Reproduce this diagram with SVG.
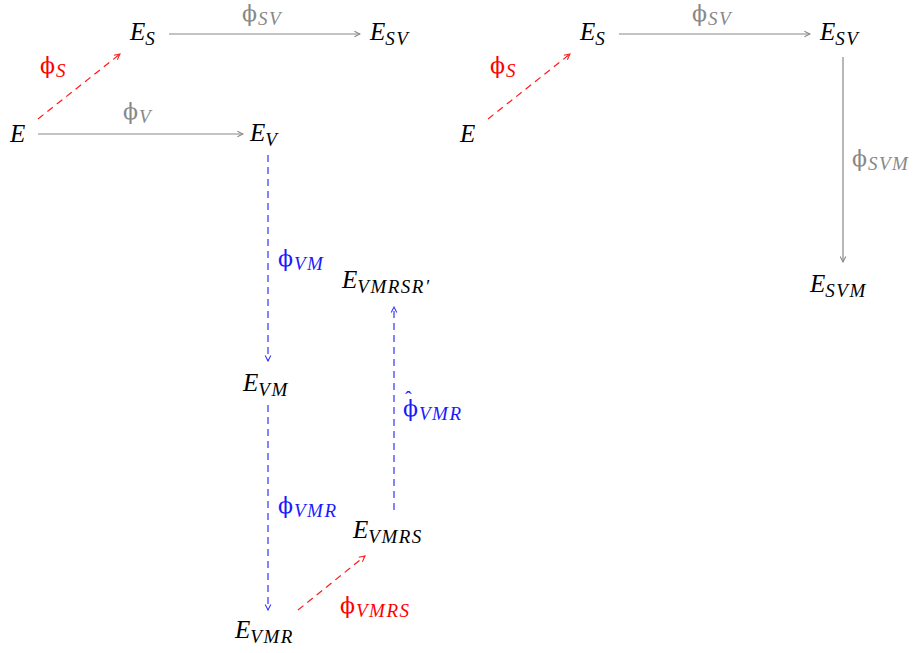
<svg xmlns="http://www.w3.org/2000/svg" width="918" height="653" viewBox="0 0 918 653">
<style>
text,tspan{font-family:"Liberation Serif","Times New Roman","DejaVu Serif",serif}
text{font-size:25px}
.n{fill:#000;font-style:italic}
.s{font-size:19px;font-style:italic;letter-spacing:1.5px}
.g{fill:#888}
.b{fill:#1a1aff}
.r{fill:#ff0000}
.ph{font-style:normal;font-family:"DejaVu Serif","Liberation Serif",serif;font-size:22px;letter-spacing:1px}
.hat{font-style:normal;font-size:20px}
.lg{stroke:#888;stroke-width:1.2;fill:none}
.lb{stroke:#3333ff;stroke-width:1.2;fill:none;stroke-dasharray:7 5}
.lr{stroke:#ff1a1a;stroke-width:1.2;fill:none;stroke-dasharray:7 5}
</style>
<defs>
<marker id="ag" viewBox="0 0 10 10" refX="9" refY="5" markerWidth="8" markerHeight="8" markerUnits="userSpaceOnUse" orient="auto"><path d="M2,1.5 L9,5 L2,8.5" fill="none" stroke="#888" stroke-width="1.3"/></marker>
<marker id="ab" viewBox="0 0 10 10" refX="9" refY="5" markerWidth="8" markerHeight="8" markerUnits="userSpaceOnUse" orient="auto"><path d="M2,1.5 L9,5 L2,8.5" fill="none" stroke="#3333ff" stroke-width="1.3"/></marker>
<marker id="ar" viewBox="0 0 10 10" refX="9" refY="5" markerWidth="8" markerHeight="8" markerUnits="userSpaceOnUse" orient="auto"><path d="M2,1.5 L9,5 L2,8.5" fill="none" stroke="#ff1a1a" stroke-width="1.3"/></marker>
</defs>

<g id="connectors">
<line class="lg" x1="38" y1="134" x2="243" y2="134" marker-end="url(#ag)"/>
<line class="lg" x1="169" y1="34" x2="360" y2="34" marker-end="url(#ag)"/>
<line class="lr" x1="38" y1="119" x2="120" y2="54" marker-end="url(#ar)"/>
<line class="lb" x1="268" y1="155" x2="268" y2="361" marker-end="url(#ab)"/>
<line class="lb" x1="268" y1="405" x2="268" y2="610" marker-end="url(#ab)"/>
<line class="lr" x1="298" y1="610" x2="365" y2="556" marker-end="url(#ar)"/>
<line class="lb" x1="394" y1="510" x2="394" y2="307" marker-end="url(#ab)"/>
<line class="lr" x1="488" y1="119" x2="570" y2="54" marker-end="url(#ar)"/>
<line class="lg" x1="619" y1="34" x2="810" y2="34" marker-end="url(#ag)"/>
<line class="lg" x1="843" y1="57" x2="843" y2="262" marker-end="url(#ag)"/>
</g>

<g id="labels">
<text x="242" y="21" class="g"><tspan class="ph">ϕ</tspan><tspan class="s" dy="4">SV</tspan></text>
<text x="123" y="119" class="g"><tspan class="ph">ϕ</tspan><tspan class="s" dy="4">V</tspan></text>
<text x="40" y="73" class="r"><tspan class="ph">ϕ</tspan><tspan class="s" dy="4">S</tspan></text>
<text x="278" y="266" class="b"><tspan class="ph">ϕ</tspan><tspan class="s" dy="4">VM</tspan></text>
<text x="278" y="513" class="b"><tspan class="ph">ϕ</tspan><tspan class="s" dy="4">VMR</tspan></text>
<text x="403" y="416" class="b"><tspan class="ph">ϕ</tspan><tspan class="s" dy="4">VMR</tspan></text>
<text x="405" y="406" class="b hat">ˆ</text>
<text x="340" y="613" class="r"><tspan class="ph">ϕ</tspan><tspan class="s" dy="4">VMRS</tspan></text>
<text x="490" y="73" class="r"><tspan class="ph">ϕ</tspan><tspan class="s" dy="4">S</tspan></text>
<text x="692" y="21" class="g"><tspan class="ph">ϕ</tspan><tspan class="s" dy="4">SV</tspan></text>
<text x="852" y="166" class="g"><tspan class="ph">ϕ</tspan><tspan class="s" dy="4">SVM</tspan></text>
</g>

<g id="E"><text x="10" y="142" class="n">E</text></g>
<g id="ES"><text x="130" y="40" class="n">E<tspan class="s" dy="5">S</tspan></text></g>
<g id="ESV"><text x="370" y="40" class="n">E<tspan class="s" dy="5">SV</tspan></text></g>
<g id="EV"><text x="250" y="141" class="n">E<tspan class="s" dy="5">V</tspan></text></g>
<g id="EVM"><text x="243" y="391" class="n">E<tspan class="s" dy="5">VM</tspan></text></g>
<g id="EVMRSRp"><text x="342" y="288" class="n">E<tspan class="s" dy="5">VMRSR′</tspan></text></g>
<g id="EVMRS"><text x="353" y="538" class="n">E<tspan class="s" dy="5">VMRS</tspan></text></g>
<g id="EVMR"><text x="235" y="638" class="n">E<tspan class="s" dy="5">VMR</tspan></text></g>
<g id="E2"><text x="460" y="142" class="n">E</text></g>
<g id="ES2"><text x="580" y="40" class="n">E<tspan class="s" dy="5">S</tspan></text></g>
<g id="ESV2"><text x="820" y="40" class="n">E<tspan class="s" dy="5">SV</tspan></text></g>
<g id="ESVM"><text x="810" y="292" class="n">E<tspan class="s" dy="5">SVM</tspan></text></g>
</svg>
